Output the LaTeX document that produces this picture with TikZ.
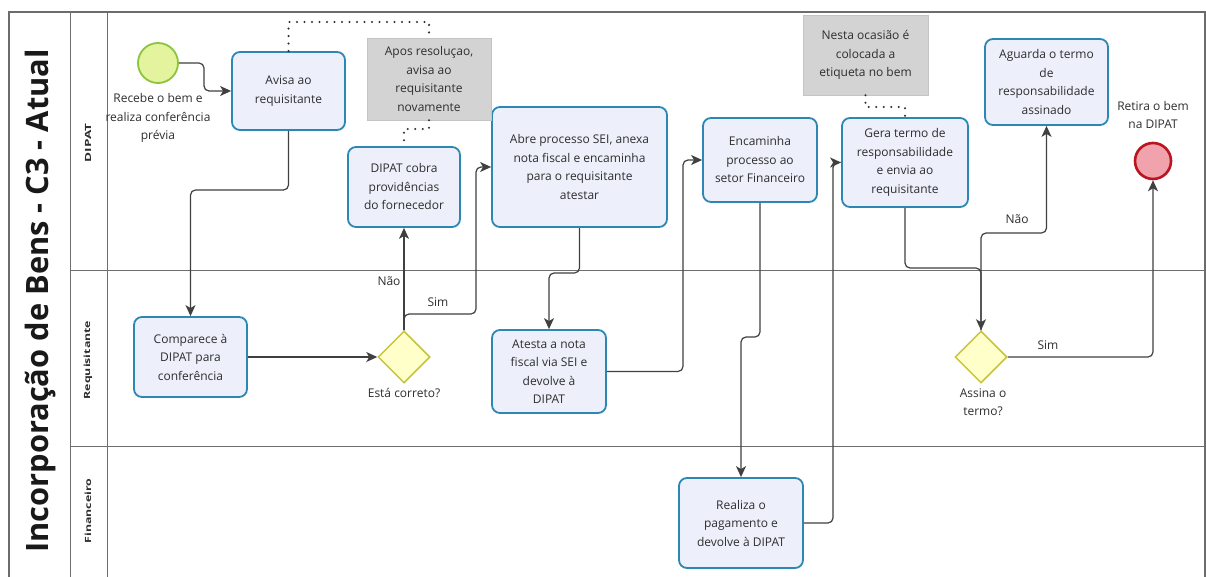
\documentclass[tikz,border=0pt]{standalone}
\usepackage{fontspec}
\setmainfont{Open Sans}
\usetikzlibrary{arrows.meta,shapes.geometric}
\definecolor{taskfill}{HTML}{EDF0FB}
\definecolor{taskline}{HTML}{2C87B5}
\definecolor{notefill}{HTML}{D3D3D3}
\definecolor{noteline}{HTML}{C4C4C4}
\definecolor{startfill}{HTML}{E4F49E}
\definecolor{startline}{HTML}{8CC43E}
\definecolor{endfill}{HTML}{F0A3AC}
\definecolor{endline}{HTML}{B9141F}
\definecolor{gwfill}{HTML}{FFFFC9}
\definecolor{gwline}{HTML}{C6C43A}
\definecolor{ink}{HTML}{2E2E2E}
\definecolor{flow}{HTML}{404040}
\definecolor{lane}{HTML}{6E6E6E}
\tikzset{
  txt/.style={font=\fontsize{12}{18.5}\selectfont, text=ink, align=center},
  task/.style={txt, draw=taskline, fill=taskfill, line width=1.8pt, rounded corners=8pt,
    minimum width=#1, inner sep=1pt},
  note/.style={txt, draw=noteline, fill=notefill, line width=0.6pt, inner sep=1pt},
  startev/.style={circle, draw=startline, fill=startfill, line width=1.8pt, minimum size=40pt, inner sep=0pt},
  endev/.style={circle, draw=endline, fill=endfill, line width=2.6pt, minimum size=36pt, inner sep=0pt},
  gateway/.style={diamond, draw=gwline, fill=gwfill, line width=1.5pt, minimum size=52pt, inner sep=0pt, aspect=1},
  seqflow/.style={draw=flow, line width=1.2pt, rounded corners=5pt, -{Stealth[length=11pt,width=10pt,inset=3pt]}},
  assoc/.style={draw=ink, line width=2.3pt, line cap=round, dash pattern=on 0pt off 7.5pt},
  lbl/.style={txt},
  lanetitle/.style={rotate=90, font=\fontsize{8.5}{9}\bfseries, text=ink},
}
\begin{document}
\begin{tikzpicture}[x=1pt, y=-1pt]
\useasboundingbox (0,0) rectangle (1206,577);
\fill[white] (0,0) rectangle (1206,577);

% pool frame and lanes
\draw[lane, line width=0.9pt] (70,12) -- (70,577) (107,12) -- (107,577);
\draw[lane, line width=0.9pt] (70,270) -- (1205,270) (70,446) -- (1205,446);
\draw[draw=gray!85!black, line width=1.6pt] (9,577) -- (9,12) -- (1205,12) -- (1205,577);

\node[rotate=90, font=\fontsize{30.8}{31}\bfseries, text=black!90] (pool) at (40,301) {Incorporação de Bens - C3 - Atual};
\node[lanetitle] (l1) at (88,143) {\scalebox{1.6}[1]{DIPAT}};
\node[lanetitle] (l2) at (88,360) {\scalebox{1.45}[1]{Requisitante}};
\node[lanetitle] (l3) at (88,511) {\scalebox{1.45}[1]{Financeiro}};

% events and gateways
\node[startev] (start) at (158,63) {};
\node[lbl] (startl) at (158,118) {Recebe o bem e\\realiza conferência\\prévia};
\node[endev] (end) at (1153,161) {};
\node[lbl] (endl) at (1153,115) {Retira o bem\\na DIPAT};
\node[gateway] (gw1) at (404,357) {};
\node[lbl] (gw1l) at (404,393) {Está correto?};
\node[gateway] (gw2) at (981,357) {};
\node[lbl] (gw2l) at (983,402) {Assina o\\termo?};

% tasks
\node[task=113pt, minimum height=78pt] (avisa) at (288.5,91) {Avisa ao\\requisitante};
\node[task=112pt, minimum height=80pt] (cobra) at (404,187) {DIPAT cobra\\providências\\do fornecedor};
\node[task=175pt, minimum height=120pt] (abre) at (579.5,167) {Abre processo SEI, anexa\\nota fiscal e encaminha\\para o requisitante\\atestar};
\node[task=114pt, minimum height=83pt] (atesta) at (549,371.5) {Atesta a nota\\fiscal via SEI e\\devolve à\\DIPAT};
\node[task=114pt, minimum height=84pt] (encam) at (760,160) {Encaminha\\processo ao\\setor Financeiro};
\node[task=124pt, minimum height=90pt] (realiza) at (741,523) {Realiza o\\pagamento e\\devolve à DIPAT};
\node[task=126pt, minimum height=89pt] (gera) at (905,162.5) {Gera termo de\\responsabilidade\\e envia ao\\requisitante};
\node[task=123pt, minimum height=86pt] (aguarda) at (1046.5,82) {Aguarda o termo\\de\\responsabilidade\\assinado};
\node[task=113pt, minimum height=80pt] (comp) at (190.5,357) {Comparece à\\DIPAT para\\conferência};

% annotations
\node[note, minimum width=124pt, minimum height=82pt] (ann1) at (429,79) {Apos resoluçao,\\avisa ao\\requisitante\\novamente};
\node[note, minimum width=125pt, minimum height=80pt] (ann2) at (865.5,55) {Nesta ocasião é\\colocada a\\etiqueta no bem};

% associations
\draw[assoc] (avisa.north) -- (288.5,22) -- (429,22) -- (ann1.north);
\draw[assoc] (ann1.south) -- (429,129) -- (404,129) -- (cobra.north);
\draw[assoc] (ann2.south) -- (865.5,107) -- (905,107) -- (gera.north);

% sequence flows
\draw[seqflow] (start.east) -- (204,63) |- (avisa.west);
\draw[seqflow] (avisa.south) -- (288.5,190) -| (comp.north);
\draw[seqflow] (comp.east) -- (gw1.west);
\draw[seqflow] (gw1.north) -- (cobra.south);
\draw[seqflow] (gw1.north) -- (404,314) -- (476,314) |- (abre.west);
\draw[seqflow] (abre.south) -- (579.5,273) -| (atesta.north);
\draw[seqflow] (atesta.east) -- (683,371.5) |- (encam.west);
\draw[seqflow] (encam.south) -- (760,337) -| (realiza.north);
\draw[seqflow] (realiza.east) -- (833,523) |- (gera.west);
\draw[seqflow] (gera.south) -- (905,268) -- (981,268) -- (gw2.north);
\draw[seqflow] (gw2.north) -- (981,233) -| (aguarda.south);
\draw[seqflow] (gw2.east) -| (end.south);

% flow labels
\node[lbl] (nao1) at (389,281) {Não};
\node[lbl] (sim1) at (438,302) {Sim};
\node[lbl] (nao2) at (1017,219) {Não};
\node[lbl] (sim2) at (1048,345) {Sim};
\end{tikzpicture}
\end{document}
